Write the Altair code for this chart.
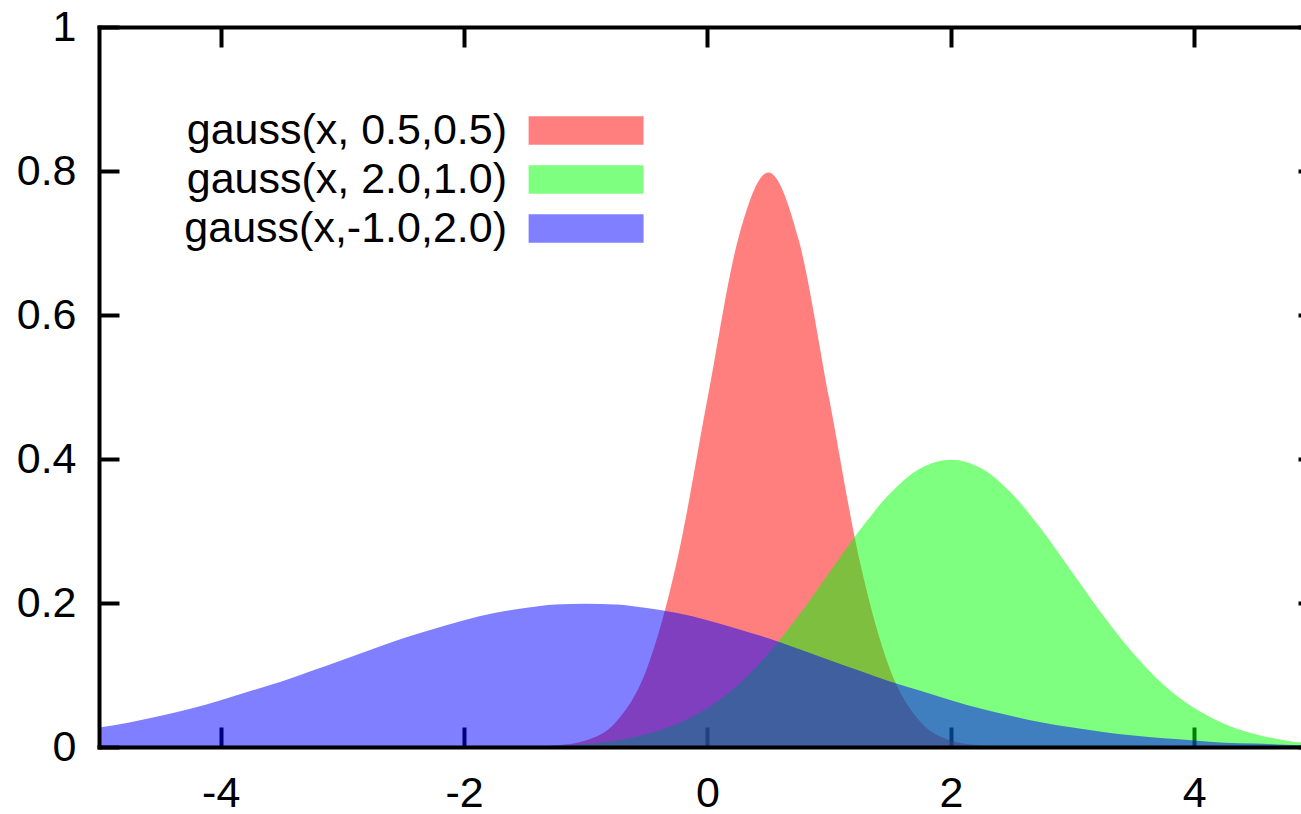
import altair as alt
import pandas as pd

FONT = "Liberation Sans"

# Curves: label, fill colour and sampled heights at each x position
labels = ["gauss(x, 0.5,0.5)", "gauss(x, 2.0,1.0)", "gauss(x,-1.0,2.0)"]
colors = ["#ff0000", "#00ff00", "#0000ff"]

x_vals = [
    -5.0, -4.75, -4.5, -4.25, -4.0, -3.75, -3.5, -3.25, -3.0, -2.75,
    -2.5, -2.25, -2.0, -1.75, -1.5, -1.25, -1.0, -0.75, -0.5, -0.25,
    0.0, 0.25, 0.5, 0.75, 1.0, 1.25, 1.5, 1.75, 2.0, 2.25,
    2.5, 2.75, 3.0, 3.25, 3.5, 3.75, 4.0, 4.25, 4.5, 4.75, 5.0,
]
red_vals = [
    0.0, 0.0, 0.0, 0.0, 0.0, 0.0, 0.0, 0.0, 0.0, 0.0,
    0.0, 0.0, 0.0, 0.0, 0.0, 0.002, 0.009, 0.035, 0.108, 0.259,
    0.484, 0.704, 0.798, 0.704, 0.484, 0.259, 0.108, 0.035, 0.009, 0.002,
    0.0, 0.0, 0.0, 0.0, 0.0, 0.0, 0.0, 0.0, 0.0, 0.0, 0.0,
]
green_vals = [
    0.0, 0.0, 0.0, 0.0, 0.0, 0.0, 0.0, 0.0, 0.0, 0.0,
    0.0, 0.0, 0.0, 0.0, 0.001, 0.002, 0.004, 0.009, 0.018, 0.032,
    0.054, 0.086, 0.130, 0.183, 0.242, 0.301, 0.352, 0.387, 0.399, 0.387,
    0.352, 0.301, 0.242, 0.183, 0.130, 0.086, 0.054, 0.032, 0.018, 0.009, 0.004,
]
blue_vals = [
    0.027, 0.034, 0.043, 0.053, 0.065, 0.078, 0.091, 0.106, 0.121, 0.136,
    0.151, 0.164, 0.176, 0.186, 0.193, 0.198, 0.199, 0.198, 0.193, 0.186,
    0.176, 0.164, 0.151, 0.136, 0.121, 0.106, 0.091, 0.078, 0.065, 0.053,
    0.043, 0.034, 0.027, 0.021, 0.016, 0.012, 0.009, 0.006, 0.005, 0.003, 0.002,
]

x_ticks = [-4, -2, 0, 2, 4]
y_ticks = [0, 0.2, 0.4, 0.6, 0.8, 1]
x_range = [-5, 4.877]
y_range = [0, 1]

W, H = 1202, 720

curves = pd.DataFrame({
    "x": x_vals * 3,
    "y": red_vals + green_vals + blue_vals,
    "curve": [lab for lab in labels for _ in x_vals],
})
xt = pd.DataFrame({"v": x_ticks})
yt = pd.DataFrame({"v": y_ticks})

xscale = alt.Scale(domain=x_range, nice=False, zero=False)
yscale = alt.Scale(domain=y_range, nice=False, zero=False)
cscale = alt.Scale(domain=labels, range=colors)

label_style = dict(labelFont=FONT, labelFontSize=43, labelColor="black",
                   labelExpr="toString(datum.value)", labelOverlap=False,
                   labelFlush=False, grid=False, title=None)
border = dict(domain=True, domainColor="black", domainWidth=4, domainCap="square")
inward = dict(ticks=True, tickColor="black", tickWidth=4, tickSize=20,
              labels=False, grid=False, title=None)

x_main = alt.Axis(orient="bottom", values=x_ticks, ticks=False, tickSize=0,
                  labelPadding=25, zindex=1, **border, **label_style)
y_main = alt.Axis(orient="left", values=y_ticks, ticks=False, tickSize=0,
                  labelPadding=23, zindex=1, **border, **label_style)

# Key: right-aligned labels with wide swatches drawn to their right
# (the swatch path is shifted right of its anchor point)
legend = alt.Legend(
    orient="none", legendX=365, legendY=82, title=None, padding=0,
    symbolType="M3,-1H11V1H3Z", symbolSize=826, symbolStrokeWidth=0,
    symbolOpacity=0.5, symbolOffset=0, labelFont=FONT, labelFontSize=43,
    labelColor="black", labelAlign="right", labelOffset=0, labelLimit=0,
    rowPadding=5,
)

areas = []
for i, lab in enumerate(labels):
    areas.append(
        alt.Chart(curves)
        .transform_filter(alt.datum.curve == lab)
        .mark_area(opacity=0.5, interpolate="monotone", clip=True)
        .encode(
            x=alt.X("x:Q", scale=xscale, axis=x_main if i == 0 else None),
            y=alt.Y("y:Q", scale=yscale, stack=None, axis=y_main if i == 0 else None),
            color=alt.Color("curve:N", scale=cscale, legend=legend if i == 0 else None),
        )
    )

# Inward ticks along the bottom edge
x_ticks_bottom = alt.Chart(xt).mark_point(opacity=0).encode(
    x=alt.X("v:Q", scale=xscale, axis=alt.Axis(
        orient="top", offset=-H, values=x_ticks, domain=False, zindex=0, **inward))
)
# Top border with inward ticks
x_ticks_top = alt.Chart(xt).mark_point(opacity=0).encode(
    x=alt.X("v:Q", scale=xscale, axis=alt.Axis(
        orient="bottom", offset=-H, values=x_ticks, zindex=0, **border, **inward))
)
# Inward ticks along the left edge
y_ticks_left = alt.Chart(yt).mark_point(opacity=0).encode(
    y=alt.Y("v:Q", scale=yscale, axis=alt.Axis(
        orient="right", offset=-W, values=y_ticks, domain=False, zindex=0, **inward))
)
# Stubs of the right-hand ticks at the edge of the frame
y_ticks_right = alt.Chart(yt).mark_point(opacity=0).encode(
    y=alt.Y("v:Q", scale=yscale, axis=alt.Axis(
        orient="left", offset=-W, values=y_ticks, domain=False, zindex=0,
        ticks=True, tickColor="black", tickWidth=4, tickSize=3,
        labels=False, grid=False, title=None))
)

chart = (
    alt.layer(*areas, x_ticks_bottom, x_ticks_top, y_ticks_left, y_ticks_right)
    .resolve_axis(x="independent", y="independent")
    .properties(
        width=W, height=H,
        autosize=alt.AutoSizeParams(type="none"),
        padding={"left": 99, "top": 27, "right": 0, "bottom": 67},
        background="white",
    )
    .configure_view(stroke=None)
)

chart.save("out.html", embed_options={"renderer": "svg", "actions": False})
